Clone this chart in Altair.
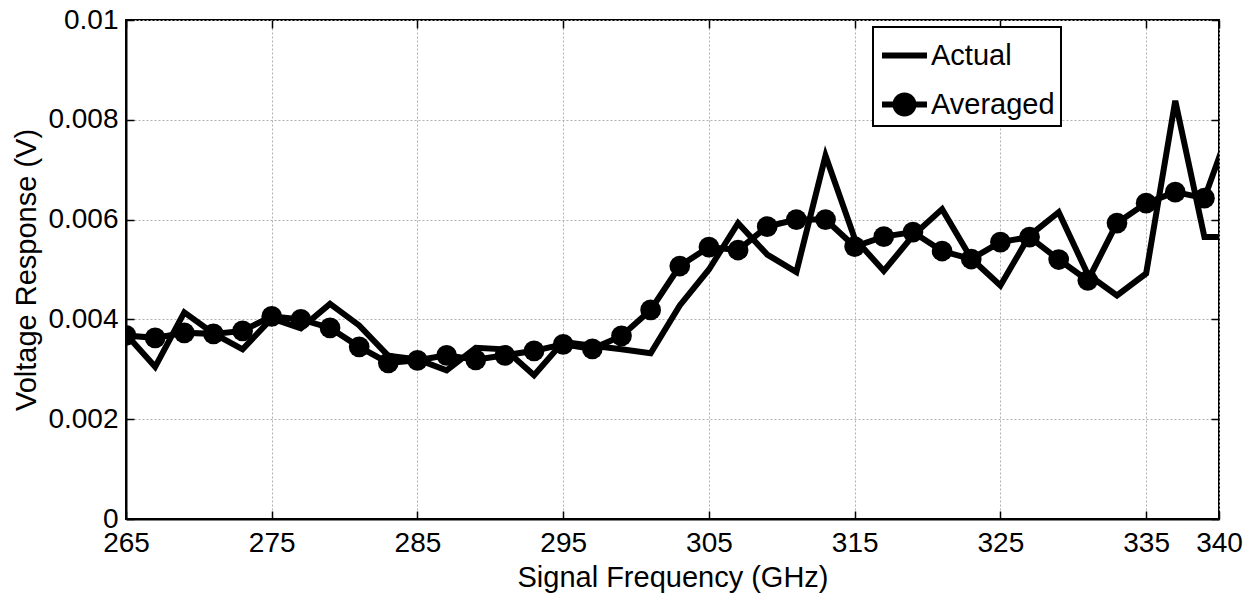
import altair as alt
import pandas as pd

freq = [265, 267, 269, 271, 273, 275, 277, 279, 281, 283, 285, 287, 289, 291,
        293, 295, 297, 299, 301, 303, 305, 307, 309, 311, 313, 315, 317, 319,
        321, 323, 325, 327, 329, 331, 333, 335, 337, 339, 341]
actual = [3.70, 3.05, 4.14, 3.72, 3.40, 4.02, 3.82, 4.31, 3.88, 3.27, 3.20, 2.98,
          3.43, 3.40, 2.88, 3.55, 3.47, 3.40, 3.32, 4.28, 5.00, 5.93, 5.30, 4.95,
          7.28, 5.62, 4.97, 5.68, 6.21, 5.22, 4.68, 5.68, 6.15, 4.90, 4.48, 4.92,
          8.38, 5.65, 5.65]
averaged = [3.68, 3.63, 3.73, 3.71, 3.77, 4.06, 4.00, 3.83, 3.45, 3.13, 3.18, 3.28,
            3.19, 3.28, 3.37, 3.50, 3.41, 3.67, 4.19, 5.07, 5.45, 5.39, 5.86, 6.00,
            6.00, 5.46, 5.66, 5.75, 5.37, 5.21, 5.55, 5.65, 5.20, 4.78, 5.93, 6.33,
            6.55, 6.43, 8.05]
series_names = ["Actual", "Averaged"]
x_ticks = [265, 275, 285, 295, 305, 315, 325, 335, 340]
y_ticks = [0, 0.002, 0.004, 0.006, 0.008, 0.01]

rows = []
for f, a, m in zip(freq, actual, averaged):
    rows.append({"freq": f, "volt": a / 1000.0, "series": "Actual"})
    rows.append({"freq": f, "volt": m / 1000.0, "series": "Averaged"})
df = pd.DataFrame(rows)
df_avg = df[df.series == "Averaged"]

FONT = "Liberation Sans"
xscale = alt.Scale(domain=[265, 340], nice=False, zero=False)
yscale = alt.Scale(domain=[0, 0.01], nice=False)

x_main = alt.X("freq:Q", scale=xscale, title="Signal Frequency (GHz)",
               axis=alt.Axis(values=x_ticks, ticks=False, tickSize=0, labelPadding=10,
                             grid=True, gridDash=[2, 2], gridColor="#b0b0b0", gridWidth=1,
                             domainColor="black", domainWidth=2, labelFontSize=28,
                             titleFontSize=29, titlePadding=6, labelFlush=False))
y_main = alt.Y("volt:Q", scale=yscale, title="Voltage Response (V)",
               axis=alt.Axis(values=y_ticks, ticks=False, tickSize=0, labelPadding=8,
                             grid=True, gridDash=[2, 2], gridColor="#b0b0b0", gridWidth=1,
                             domainColor="black", domainWidth=2, labelFontSize=28,
                             titleFontSize=29, titlePadding=6, labelFlush=False,
                             labelExpr="datum.value == 0 ? '0' : format(datum.value, '.3~f')"))

lines = alt.Chart(df).mark_line(strokeWidth=6, clip=True, color="black",
                                strokeJoin="miter").encode(
    x=x_main, y=y_main, detail="series:N")

points = alt.Chart(df_avg).mark_circle(size=430, color="black", opacity=1,
                                       clip=True).encode(
    x=alt.X("freq:Q", scale=xscale, axis=None),
    y=alt.Y("volt:Q", scale=yscale, axis=None))

path_actual = "M -0.866 -0.133 L 1.134 -0.133 L 1.134 0.133 L -0.866 0.133 Z"
path_avg = ("M -0.866 -0.133 L 1.134 -0.133 L 1.134 0.133 L -0.866 0.133 Z "
            "M -0.399 0 A 0.533 0.533 0 1 1 0.667 0 A 0.533 0.533 0 1 1 -0.399 0 Z")

ghost = alt.Chart(df).mark_point(opacity=0, filled=True, clip=True,
                                 color="black").encode(
    x=alt.X("freq:Q", scale=xscale, axis=None),
    y=alt.Y("volt:Q", scale=yscale, axis=None),
    shape=alt.Shape("series:N",
                    scale=alt.Scale(domain=series_names, range=[path_actual, path_avg]),
                    legend=alt.Legend(orient="none", legendX=747, legendY=7, title=None,
                                      fillColor="white", strokeColor="black",
                                      padding=6, symbolSize=2025,
                                      symbolFillColor="black", symbolStrokeColor="black",
                                      symbolStrokeWidth=0, symbolOpacity=1,
                                      labelFont=FONT, labelFontSize=29, labelColor="black",
                                      labelOffset=7, rowPadding=11,
                                      labelExpr="datum.label + '\u00a0\u00a0\u00a0\u00a0\u00a0'")))


def tick_layer(xo, yo):
    return alt.Chart(df_avg).mark_point(opacity=0).encode(
        x=alt.X("freq:Q", scale=xscale,
                axis=alt.Axis(orient=xo, values=x_ticks, labels=False, ticks=True,
                              tickSize=8, tickColor="black", tickWidth=1.5, offset=-8,
                              domain=False, grid=False, title=None)),
        y=alt.Y("volt:Q", scale=yscale,
                axis=alt.Axis(orient=yo, values=y_ticks, labels=False, ticks=True,
                              tickSize=8, tickColor="black", tickWidth=1.5, offset=-8,
                              domain=False, grid=False, title=None)))


chart = alt.layer(lines, points, ghost, tick_layer("bottom", "left"),
                  tick_layer("top", "right")).resolve_axis(
    x="independent", y="independent").properties(
    width=1093, height=499,
    autosize=alt.AutoSizeParams(type="none"),
    padding={"left": 126, "top": 20, "right": 34, "bottom": 75},
    background="white",
).configure_view(stroke="black", strokeWidth=2).configure_axis(
    labelFont=FONT, titleFont=FONT, labelColor="black", titleColor="black",
    titleFontWeight="normal").configure_legend(strokeWidth=2)

chart.save("out.html", embed_options={"renderer": "svg", "actions": False})
